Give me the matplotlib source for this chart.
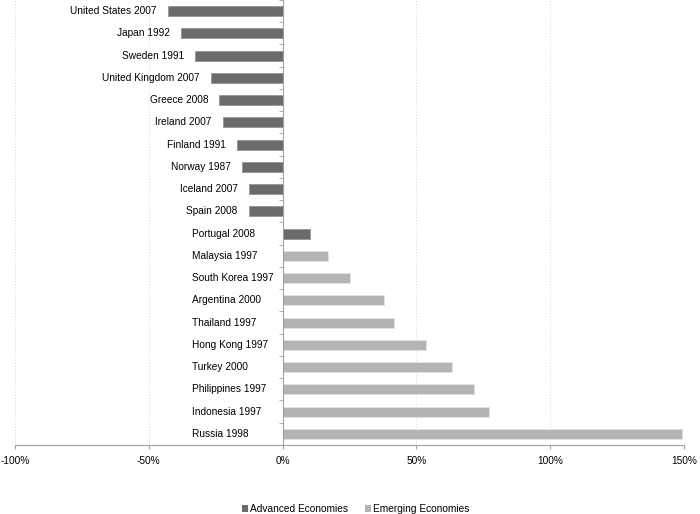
import matplotlib
matplotlib.use("Agg")
import matplotlib.pyplot as plt
from matplotlib.patches import Patch
import numpy as np

countries = [
    "United States 2007", "Japan 1992", "Sweden 1991", "United Kingdom 2007",
    "Greece 2008", "Ireland 2007", "Finland 1991", "Norway 1987",
    "Iceland 2007", "Spain 2008", "Portugal 2008", "Malaysia 1997",
    "South Korea 1997", "Argentina 2000", "Thailand 1997", "Hong Kong 1997",
    "Turkey 2000", "Philippines 1997", "Indonesia 1997", "Russia 1998",
]
values = [-42.8, -37.9, -32.6, -26.9, -23.6, -22.3, -17.0, -15.1, -12.6, -12.6,
          10.4, 16.8, 25.0, 38.0, 41.8, 53.5, 63.3, 71.7, 77.0, 149.4]
groups = ["Advanced"] * 11 + ["Emerging"] * 9

xticks = [-100, -50, 0, 50, 100, 150]
xtick_labels = ["-100%", "-50%", "0%", "50%", "100%", "150%"]

dark = "#6b6b6b"
light = "#b4b4b4"
plt.rcParams['font.family'] = ['Liberation Sans', 'DejaVu Sans']

fig = plt.figure(figsize=(7.0, 5.14), dpi=100)
ax = fig.add_axes([15 / 700, 69 / 514, 669 / 700, 445 / 514])

y = np.arange(len(countries))
colors = [dark if g == "Advanced" else light for g in groups]
edges = ["#9a9a9a" if g == "Advanced" else "#e2e2e2" for g in groups]
ax.barh(y, values, height=0.46, color=colors, edgecolor=edges, linewidth=0.7, zorder=3)

ax.set_xlim(-100, 150)
ax.set_ylim(len(countries) - 0.5, -0.5)

# labels: negative bars get a label just left of the bar, positives sit left of zero
for yi, name, v in zip(y, countries, values):
    if v < 0:
        ax.annotate(name, (v, yi), xytext=(-8, 0), textcoords="offset points",
                    ha="right", va="center", fontsize=7.3, color="black")
    else:
        ax.text(-33.8, yi, name, ha="left", va="center", fontsize=7.3, color="black")

ax.set_xticks(xticks)
ax.set_xticklabels(xtick_labels, fontsize=7.3)
for x in xticks:
    if x != 0:
        ax.axvline(x, color="#d8d8d8", lw=0.7, ls=(0, (1, 2)), zorder=1)

ax.set_yticks([])
ax.set_yticks(np.arange(-0.5, len(countries), 1.0), minor=True)
ax.tick_params(axis="y", which="minor", length=3, color="#a0a0a0", direction="out")
ax.tick_params(axis="x", length=3, color="#a0a0a0", pad=5)

for s in ["top", "right"]:
    ax.spines[s].set_visible(False)
ax.spines["left"].set_position(("data", 0))
ax.spines["left"].set_color("#a0a0a0")
ax.spines["bottom"].set_color("#a0a0a0")
ax.spines["left"].set_zorder(4)

handles = [Patch(facecolor=dark, edgecolor="none", label="Advanced Economies"),
           Patch(facecolor=light, edgecolor="none", label="Emerging Economies")]
fig.legend(handles=handles, loc="lower center", bbox_to_anchor=(0.508, -0.018), ncol=2,
           frameon=False, fontsize=7.3, handlelength=0.6, handleheight=0.6,
           handletextpad=0.2, columnspacing=1.7)

fig.savefig("out.png", dpi=100)
